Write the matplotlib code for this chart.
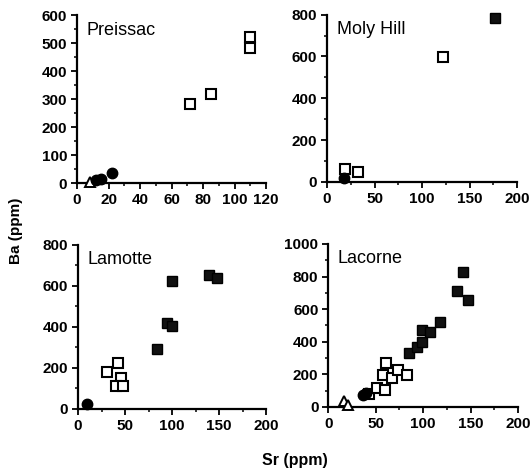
import matplotlib
matplotlib.use('Agg')
import matplotlib.pyplot as plt
from matplotlib.ticker import MultipleLocator

plt.rcParams['font.family'] = ['Liberation Sans', 'DejaVu Sans']

# Preissac
pre_open_sq_sr = [110, 110, 72, 85]
pre_open_sq_ba = [522, 483, 283, 318]
pre_circ_sr = [12, 15, 22]
pre_circ_ba = [12, 15, 35]
pre_tri_sr = [8]
pre_tri_ba = [6]

# Moly Hill
moly_fill_sq_sr = [177]
moly_fill_sq_ba = [785]
moly_open_sq_sr = [122, 19, 33]
moly_open_sq_ba = [598, 62, 45]
moly_circ_sr = [18]
moly_circ_ba = [18]

# Lamotte
lam_circ_sr = [10]
lam_circ_ba = [25]
lam_open_sq_sr = [31, 43, 46, 40, 48]
lam_open_sq_ba = [180, 222, 150, 112, 112]
lam_fill_sq_sr = [84, 100, 95, 100, 139, 148]
lam_fill_sq_ba = [292, 622, 418, 402, 652, 638]

# Lacorne
lac_tri_sr = [17, 21]
lac_tri_ba = [38, 12]
lac_circ_sr = [37, 40]
lac_circ_ba = [72, 84]
lac_open_sq_sr = [43, 51, 60, 58, 61, 67, 74, 83]
lac_open_sq_ba = [80, 117, 104, 198, 270, 178, 227, 196]
lac_fill_sq_sr = [85, 93, 99, 99, 107, 118, 136, 142, 147]
lac_fill_sq_ba = [331, 368, 470, 399, 458, 522, 710, 826, 656]

fig = plt.figure(figsize=(5.31, 4.71), dpi=100)


def setup(ax, xmax, ymax, xmaj, xmin, ymaj, ymin, name):
    ax.set_xlim(0, xmax)
    ax.set_ylim(0, ymax)
    for s in ['top', 'right']:
        ax.spines[s].set_visible(False)
    for s in ['left', 'bottom']:
        ax.spines[s].set_linewidth(1.6)
    ax.xaxis.set_major_locator(MultipleLocator(xmaj))
    ax.xaxis.set_minor_locator(MultipleLocator(xmin))
    ax.yaxis.set_major_locator(MultipleLocator(ymaj))
    ax.yaxis.set_minor_locator(MultipleLocator(ymin))
    ax.tick_params(which='major', direction='out', length=4, width=1.3, pad=3)
    ax.tick_params(which='minor', direction='out', length=2.5, width=1.1)
    for lab in ax.get_xticklabels() + ax.get_yticklabels():
        lab.set_fontweight('bold')
        lab.set_fontsize(11)
    ax.text(0.05, 0.96, name, transform=ax.transAxes, fontsize=13,
            va='top', ha='left')


def open_sq(ax, x, y):
    ax.plot(x, y, 's', ms=7.5, mfc='white', mec='black', mew=1.5,
            linestyle='none', clip_on=False, zorder=3)


def fill_sq(ax, x, y):
    ax.plot(x, y, 's', ms=7.5, mfc='#111111', mec='black', mew=1,
            linestyle='none', clip_on=False, zorder=3)


def circ(ax, x, y):
    ax.plot(x, y, 'o', ms=7.5, mfc='black', mec='black',
            linestyle='none', clip_on=False, zorder=4)


def tri(ax, x, y):
    ax.plot(x, y, '^', ms=7.5, mfc='white', mec='black', mew=1.4,
            linestyle='none', clip_on=False, zorder=3)


ax1 = fig.add_axes([0.145, 0.611, 0.356, 0.357])
tri(ax1, pre_tri_sr, pre_tri_ba)
circ(ax1, pre_circ_sr, pre_circ_ba)
open_sq(ax1, pre_open_sq_sr, pre_open_sq_ba)
setup(ax1, 120, 600, 20, 10, 100, 50, 'Preissac')

ax2 = fig.add_axes([0.616, 0.614, 0.358, 0.355])
open_sq(ax2, moly_open_sq_sr, moly_open_sq_ba)
circ(ax2, moly_circ_sr, moly_circ_ba)
fill_sq(ax2, moly_fill_sq_sr, moly_fill_sq_ba)
setup(ax2, 200, 800, 50, 25, 200, 100, 'Moly Hill')

ax3 = fig.add_axes([0.147, 0.132, 0.354, 0.348])
circ(ax3, lam_circ_sr, lam_circ_ba)
open_sq(ax3, lam_open_sq_sr, lam_open_sq_ba)
fill_sq(ax3, lam_fill_sq_sr, lam_fill_sq_ba)
setup(ax3, 200, 800, 50, 25, 200, 100, 'Lamotte')

ax4 = fig.add_axes([0.618, 0.136, 0.358, 0.346])
tri(ax4, lac_tri_sr, lac_tri_ba)
circ(ax4, lac_circ_sr, lac_circ_ba)
open_sq(ax4, lac_open_sq_sr, lac_open_sq_ba)
fill_sq(ax4, lac_fill_sq_sr, lac_fill_sq_ba)
setup(ax4, 200, 1000, 50, 25, 200, 100, 'Lacorne')

fig.text(0.03, 0.51, 'Ba (ppm)', rotation=90, va='center', ha='center',
         fontsize=11, fontweight='bold')
fig.text(0.555, 0.022, 'Sr (ppm)', va='center', ha='center',
         fontsize=11.5, fontweight='bold')

fig.savefig('out.png', dpi=100)
